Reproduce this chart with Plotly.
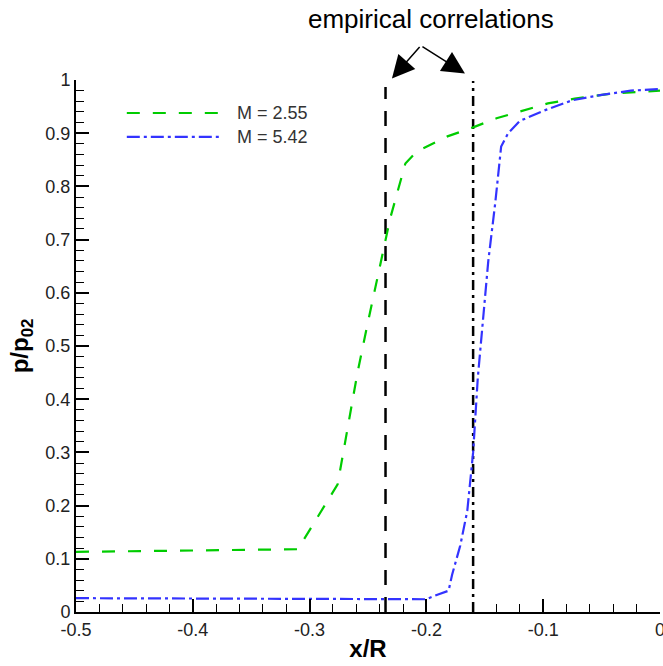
import plotly.graph_objects as go

# Wall pressure distributions ahead of the body, two free-stream Mach numbers
x_m255 = [-0.5, -0.31, -0.276, -0.259, -0.251, -0.241, -0.231, -0.218, -0.208,
          -0.182, -0.16, -0.14, -0.117, -0.096, -0.073, -0.04, 0.0]
p_m255 = [0.113, 0.118, 0.24, 0.45, 0.535, 0.64, 0.74, 0.843, 0.866,
          0.894, 0.911, 0.928, 0.942, 0.956, 0.965, 0.975, 0.98]

x_m542 = [-0.5, -0.2, -0.19, -0.181, -0.178, -0.171, -0.165, -0.16, -0.156,
          -0.152, -0.147, -0.141, -0.136, -0.13, -0.12, -0.1, -0.075, -0.05,
          -0.025, 0.0]
p_m542 = [0.026, 0.024, 0.033, 0.04, 0.07, 0.125, 0.19, 0.3, 0.44,
          0.54, 0.66, 0.77, 0.875, 0.9, 0.923, 0.942, 0.962, 0.972,
          0.98, 0.983]

# Shock stand-off positions from the empirical correlations
x_corr = [-0.235, -0.16]
corr_top = [0.987, 0.998]

series_names = ["M = 2.55", "M = 5.42"]
series_colors = ["#00cc00", "#3333ff"]
series_dash = ["13px,13px", "13px,4px,3px,4px"]
corr_dash = ["15px,12px", "10px,5px,3px,5px"]

x_ticks = [-0.5, -0.4, -0.3, -0.2, -0.1, 0]
x_labels = ["-0.5", "-0.4", "-0.3", "-0.2", "-0.1", "0"]
y_ticks = [0, 0.1, 0.2, 0.3, 0.4, 0.5, 0.6, 0.7, 0.8, 0.9, 1]
y_labels = ["0", "0.1", "0.2", "0.3", "0.4", "0.5", "0.6", "0.7", "0.8", "0.9", "1"]

FONT = "Liberation Sans, Arial, sans-serif"

fig = go.Figure()

# empirical correlation markers
for xc, top, dash in zip(x_corr, corr_top, corr_dash):
    fig.add_trace(go.Scatter(
        x=[xc, xc], y=[0, top], mode="lines",
        line=dict(color="black", width=2.5, dash=dash),
        showlegend=False, hoverinfo="skip"))

for xs, ys, name, col, dash in zip([x_m255, x_m542], [p_m255, p_m542],
                                   series_names, series_colors, series_dash):
    fig.add_trace(go.Scatter(
        x=xs, y=ys, mode="lines", name=name,
        line=dict(color=col, width=2.2, dash=dash),
        showlegend=False, cliponaxis=False))

# hand-drawn legend with long line samples
legend_rows = [0.938, 0.893]
for yp, name, col, dash in zip(legend_rows, series_names, series_colors, series_dash):
    fig.add_shape(type="line", xref="paper", yref="paper",
                  x0=0.087, x1=0.248, y0=yp, y1=yp,
                  line=dict(color=col, width=2.2, dash=dash))
    fig.add_annotation(xref="paper", yref="paper", x=0.272, y=yp,
                       text=name, showarrow=False, xanchor="left", yanchor="middle",
                       font=dict(family=FONT, size=18, color="#333333"))

# caption with two arrows pointing at the correlation lines
fig.add_annotation(xref="paper", yref="paper", x=0.608, y=1.114,
                   text="empirical correlations", showarrow=False,
                   xanchor="center", yanchor="middle",
                   font=dict(family=FONT, size=26, color="black"))
for tipx, tipy, ax, ay in [(0.541, 1.003, 29, -33), (0.666, 1.012, -44, -28)]:
    fig.add_annotation(xref="paper", yref="paper", x=tipx, y=tipy, ax=ax, ay=ay,
                       text="", showarrow=True, arrowhead=2, arrowsize=3,
                       arrowwidth=1.5, arrowcolor="black")

axis_common = dict(
    showgrid=False, zeroline=False, showline=True, linecolor="black", linewidth=2,
    ticks="inside", ticklen=13, tickwidth=2, tickcolor="black",
    tickfont=dict(family=FONT, size=18, color="#222222"),
    ticklabeloverflow="allow",
)

fig.update_xaxes(range=[-0.5, 0], tickvals=x_ticks, ticktext=x_labels,
                 minor=dict(dtick=0.02, ticks="inside", ticklen=8, tickwidth=1,
                            tickcolor="black"),
                 title=dict(text="<b>x/R</b>", font=dict(family=FONT, size=24, color="black"),
                            standoff=2),
                 **axis_common)
fig.update_yaxes(range=[0, 1], tickvals=y_ticks, ticktext=y_labels,
                 minor=dict(dtick=0.02, ticks="inside", ticklen=8, tickwidth=1,
                            tickcolor="black"),
                 title=dict(text="<b>p/p<sub>02</sub></b>",
                            font=dict(family=FONT, size=24, color="black"), standoff=10),
                 **axis_common)

fig.update_layout(
    width=663, height=666,
    margin=dict(l=76, r=3, t=80, b=54, autoexpand=False),
    plot_bgcolor="white", paper_bgcolor="white",
    showlegend=False,
)

fig.write_html("out.html")
